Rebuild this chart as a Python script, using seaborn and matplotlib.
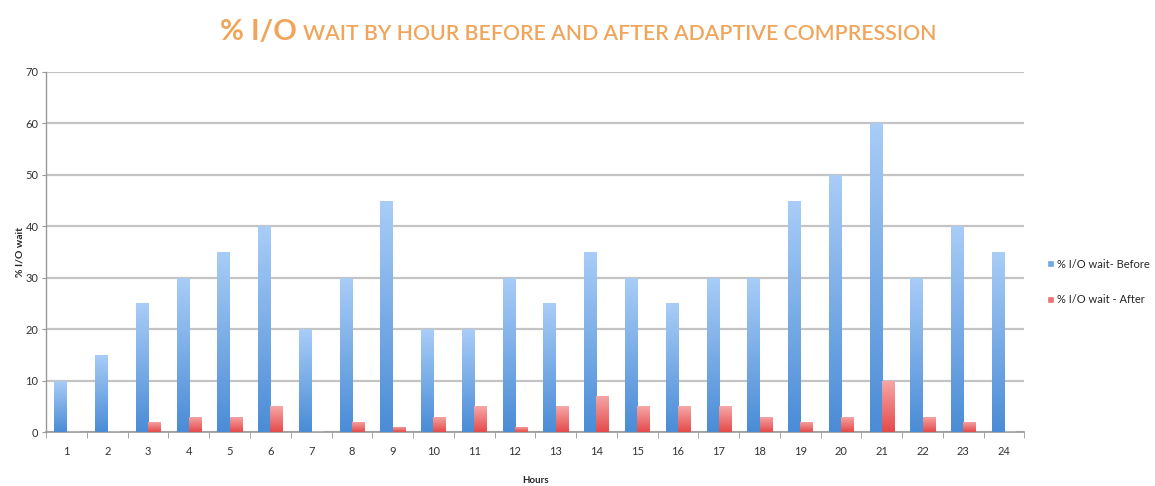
import numpy as np
import pandas as pd
import matplotlib
matplotlib.use("Agg")
import matplotlib.pyplot as plt
from matplotlib.colors import LinearSegmentedColormap
from matplotlib.patches import Patch
import seaborn as sns

hours = [str(h) for h in range(1, 25)]
before = [10, 15, 25, 30, 35, 40, 20, 30, 45, 20, 20, 30, 25, 35, 30, 25, 30, 30, 45, 50, 60, 30, 40, 35]
after = [0, 0, 2, 3, 3, 5, 0, 2, 1, 3, 5, 1, 5, 7, 5, 5, 5, 3, 2, 3, 10, 3, 2, 0]
series_names = ["% I/O wait- Before", "% I/O wait - After"]
y_ticks = [0, 10, 20, 30, 40, 50, 60, 70]

df = pd.DataFrame({
    "Hours": hours * 2,
    "value": before + after,
    "series": [series_names[0]] * len(hours) + [series_names[1]] * len(hours),
})

sns.set_style("white")
plt.rcParams["font.family"] = ["Lato", "DejaVu Sans"]

mid_colors = ["#6fa6e6", "#ee7070"]
grad = [("#4a8cd6", "#a9cdf7"), ("#e44a4a", "#f6a8a8")]

fig = plt.figure(figsize=(11.55, 4.86), dpi=100)
ax = fig.add_axes([0.040, 0.111, 0.847, 0.741])

sns.barplot(data=df, x="Hours", y="value", hue="series", palette=mid_colors,
            width=0.6, dodge=True, ax=ax, legend=False, zorder=3)

# gradient fill for bars
for ci, cont in enumerate(ax.containers):
    cmap = LinearSegmentedColormap.from_list("g%d" % ci, list(grad[ci]))
    g = np.linspace(0, 1, 256).reshape(-1, 1)
    for bar in cont:
        h = bar.get_height()
        if h <= 0:
            continue
        x0 = bar.get_x()
        w = bar.get_width()
        im = ax.imshow(g, extent=[x0, x0 + w, 0, h], origin="lower", aspect="auto",
                       cmap=cmap, zorder=3.5)
        im.set_clip_path(bar)
        bar.set_facecolor("none")
        bar.set_edgecolor("none")

ax.set_xlim(-0.5, len(hours) - 0.5)
ax.set_ylim(0, 70)
ax.set_yticks(y_ticks)
ax.set_yticklabels([str(t) for t in y_ticks], fontsize=8, color="#333333")
ax.tick_params(axis="x", labelsize=8, labelcolor="#333333", length=0, pad=10)
ax.tick_params(axis="y", length=3, color="#999999", pad=2.5, left=True)
ax.yaxis.grid(True, color="#c4c4c4", linewidth=1.6, zorder=0)
ax.set_axisbelow(True)

# minor ticks between categories on x axis
ax.set_xticks(np.arange(-0.5, len(hours), 1.0), minor=True)
ax.tick_params(axis="x", which="minor", length=4, color="#999999", bottom=True)

for s in ["top", "right"]:
    ax.spines[s].set_visible(False)
ax.spines["left"].set_color("#999999")
ax.spines["bottom"].set_color("#999999")
ax.spines["left"].set_linewidth(1.0)
ax.spines["bottom"].set_linewidth(1.2)

ax.set_xlabel("Hours", fontsize=7, fontweight="bold", labelpad=14)
ax.set_ylabel("% I/O wait", fontsize=7.5, fontweight="bold")
ax.yaxis.set_label_coords(-0.022, 0.5)

handles = [Patch(facecolor=mid_colors[0]), Patch(facecolor=mid_colors[1])]
leg = fig.legend(handles, series_names, loc="center left", bbox_to_anchor=(0.898, 0.42),
                 frameon=False, fontsize=8, handlelength=0.6, handleheight=0.6,
                 handletextpad=0.3, labelspacing=2.2)

title_color = "#f0a55a"
fig.text(0.257, 0.918, "% I/O", ha="right", va="baseline", fontsize=21,
         color=title_color, fontweight="bold")
fig.text(0.262, 0.918, "WAIT BY HOUR BEFORE AND AFTER ADAPTIVE COMPRESSION", ha="left",
         va="baseline", fontsize=15.3, color=title_color, fontweight="semibold")

fig.savefig("out.png", dpi=100)
